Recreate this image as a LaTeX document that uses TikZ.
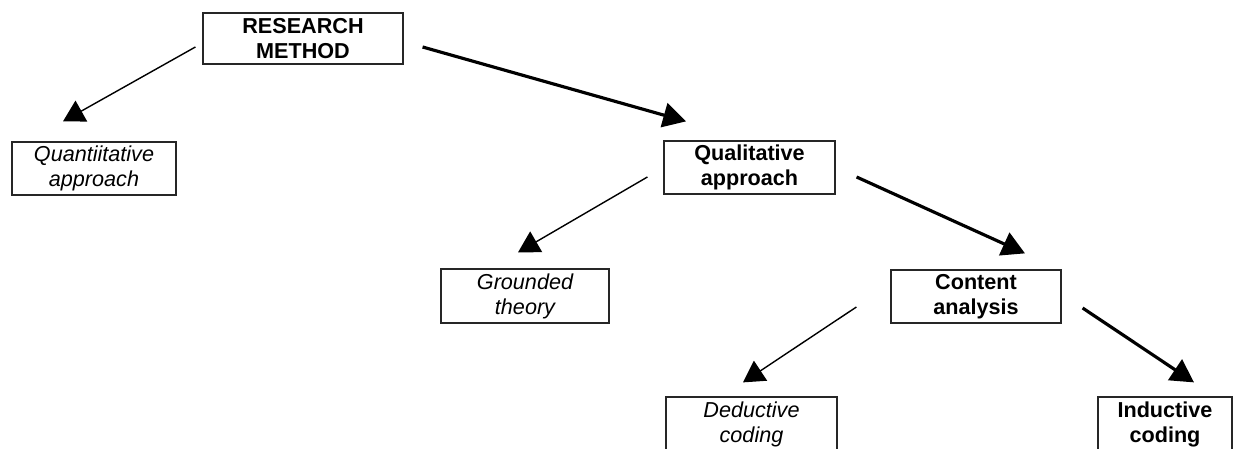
\documentclass[tikz,border=0pt]{standalone}
\usepackage{fontspec}
\setmainfont{Liberation Sans}
\usetikzlibrary{arrows.meta}
\tikzset{
  stepbox/.style={draw=black!85,line width=0.7pt,align=center,inner sep=0pt},
  mainbox/.style={stepbox,font=\fontsize{12.3}{14.2}\selectfont\bfseries},
  sidebox/.style={stepbox,font=\fontsize{12.3}{14.2}\selectfont\itshape},
  thinarrow/.style={-{Triangle[length=12pt,width=13.5pt]},line width=0.8pt},
  thickarrow/.style={-{Triangle[length=13pt,width=14pt]},line width=1.8pt},
}

\begin{document}
\begin{tikzpicture}[x=0.02cm,y=-0.02cm]
  \useasboundingbox (0,0) rectangle (1238,449);
  \node[mainbox,minimum width=4cm,minimum height=1.02cm] (rm) at (303,38.5) {RESEARCH\\METHOD};
  \node[sidebox,minimum width=3.28cm,minimum height=1.06cm] (quant) at (94,168.5) {Quantiitative\\approach};
  \node[mainbox,minimum width=3.42cm,minimum height=1.06cm] (qual) at (749.5,167.5) {Qualitative\\approach};
  \node[sidebox,minimum width=3.36cm,minimum height=1.08cm] (ground) at (525,296) {Grounded\\theory};
  \node[mainbox,minimum width=3.4cm,minimum height=1.06cm] (content) at (976,296.5) {Content\\analysis};
  \node[sidebox,minimum width=3.42cm,minimum height=1.1cm] (deduct) at (751.5,424.5) {Deductive\\coding};
  \node[mainbox,minimum width=2.68cm,minimum height=1.1cm] (induct) at (1165,424.5) {Inductive\\coding};
  \draw[thinarrow] ([shift={(-7,8.5)}]rm.west) -- ([shift={(-31,-20)}]quant.north);
  \draw[thickarrow] ([shift={(19,8.5)}]rm.east) -- ([shift={(-63.5,-19)}]qual.north);
  \draw[thinarrow] ([shift={(-16,9.5)}]qual.west) -- ([shift={(-7,-16)}]ground.north);
  \draw[thickarrow] ([shift={(21,9.5)}]qual.east) -- ([shift={(49,-16)}]content.north);
  \draw[thinarrow] ([shift={(-34,10.5)}]content.west) -- ([shift={(-8.5,-14)}]deduct.north);
  \draw[thickarrow] ([shift={(21,11.5)}]content.east) -- ([shift={(29,-14)}]induct.north);
\end{tikzpicture}
\end{document}
